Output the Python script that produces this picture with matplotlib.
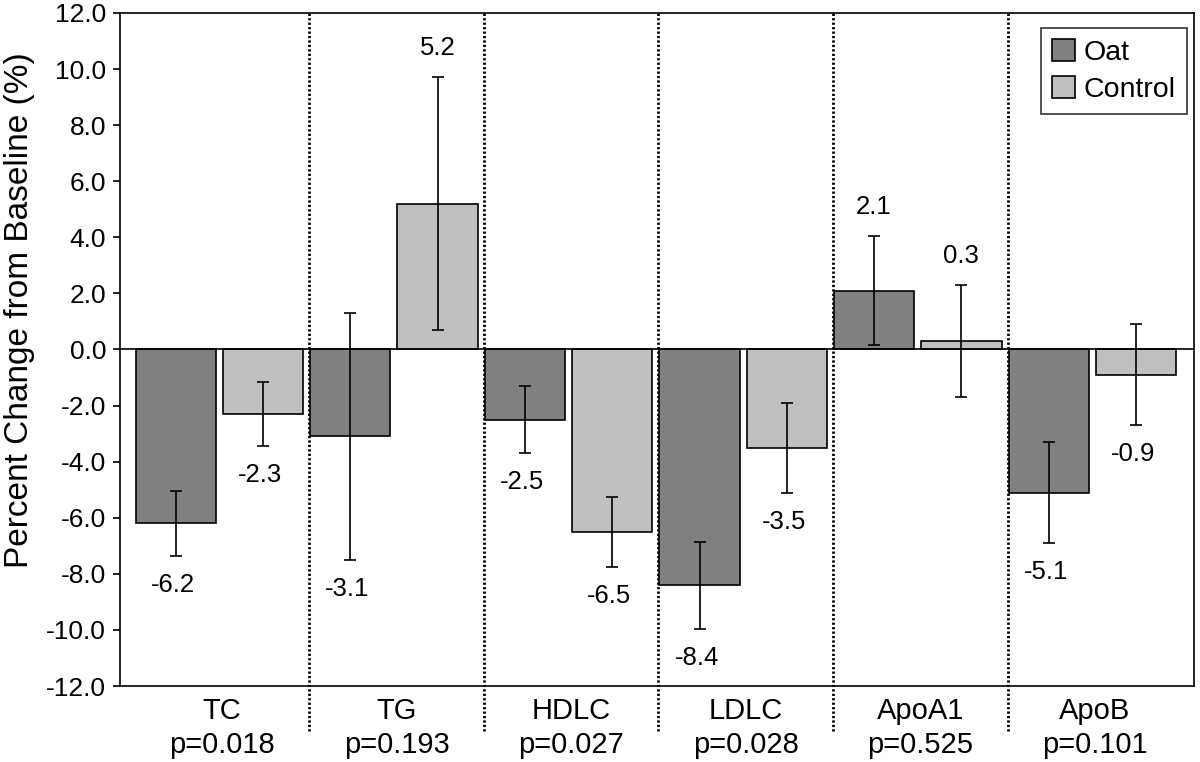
import matplotlib
matplotlib.use("Agg")
import matplotlib.pyplot as plt
import numpy as np

plt.rcParams['font.family'] = ['Liberation Sans', 'DejaVu Sans']
plt.rcParams['axes.unicode_minus'] = False

categories = ["TC", "TG", "HDLC", "LDLC", "ApoA1", "ApoB"]
p_values = ["p=0.018", "p=0.193", "p=0.027", "p=0.028", "p=0.525", "p=0.101"]
oat = [-6.2, -3.1, -2.5, -8.4, 2.1, -5.1]
control = [-2.3, 5.2, -6.5, -3.5, 0.3, -0.9]
oat_err = [1.15, 4.4, 1.2, 1.55, 1.95, 1.8]
control_err = [1.15, 4.5, 1.25, 1.6, 2.0, 1.8]

fig = plt.figure(figsize=(12, 7.62), dpi=100)
ax = fig.add_axes([0.1, 0.0997, 0.895, 0.8833])

x = np.arange(len(categories))
w = 0.46
oat_x = x - 0.265
ctrl_x = x + 0.235
lw = 1.2

ax.bar(oat_x, oat, width=w, color="#808080", edgecolor="black", linewidth=lw, label="Oat", zorder=2)
ax.bar(ctrl_x, control, width=w, color="#c0c0c0", edgecolor="black", linewidth=lw, label="Control", zorder=2)
ax.errorbar(oat_x, oat, yerr=oat_err, fmt="none", ecolor="black", elinewidth=1.2, capsize=4.5, capthick=1.2, zorder=3)
ax.errorbar(ctrl_x, control, yerr=control_err, fmt="none", ecolor="black", elinewidth=1.2, capsize=4.5, capthick=1.2, zorder=3)

# value labels beyond error bars
for xs, vals, errs in ((oat_x, oat, oat_err), (ctrl_x, control, control_err)):
    for xi, v, e in zip(xs, vals, errs):
        if v >= 0:
            ax.annotate(f"{v:.1f}", (xi, v + e), xytext=(0, 21), textcoords="offset points",
                        ha="center", va="center", fontsize=18.5)
        else:
            ax.annotate(f"{v:.1f}", (xi, v - e), xytext=(-2, -21), textcoords="offset points",
                        ha="center", va="center", fontsize=18.5)

ax.axhline(0, color="black", linewidth=1.2, zorder=4)

ax.set_xlim(-0.584, 5.567)
ax.set_ylim(-12, 12)
ax.set_yticks(np.arange(-12, 12.1, 2))
ax.set_yticklabels([f"{t:.1f}" for t in np.arange(-12, 12.1, 2)], fontsize=19)
ax.tick_params(axis="y", direction="out", length=5, width=1.2, pad=5)

ax.set_xticks(x)
ax.set_xticklabels([f"{c}\n{p}" for c, p in zip(categories, p_values)], fontsize=21, linespacing=1.25)
ax.tick_params(axis="x", length=0, pad=8)

for s in ax.spines.values():
    s.set_linewidth(1.2)
    s.set_color("black")

# dotted category separators extending below the axis
for k in range(len(categories) - 1):
    ax.plot([k + 0.5, k + 0.5], [-13.6, 12], color="black", linewidth=2.0,
            linestyle=(0, (0.8, 0.8)), clip_on=False, zorder=1)

leg = ax.legend(loc="upper right", bbox_to_anchor=(0.9935, 0.978), fontsize=20.5, frameon=True,
                fancybox=False, edgecolor="black", handlelength=0.8, handleheight=0.8,
                handletextpad=0.3, borderpad=0.4, labelspacing=0.35, borderaxespad=0)
leg.get_frame().set_linewidth(1.2)

fig.text(0.016, 0.593, "Percent Change from Baseline (%)", rotation=90, ha="center", va="center", fontsize=24)

fig.savefig("out.png", dpi=100)
